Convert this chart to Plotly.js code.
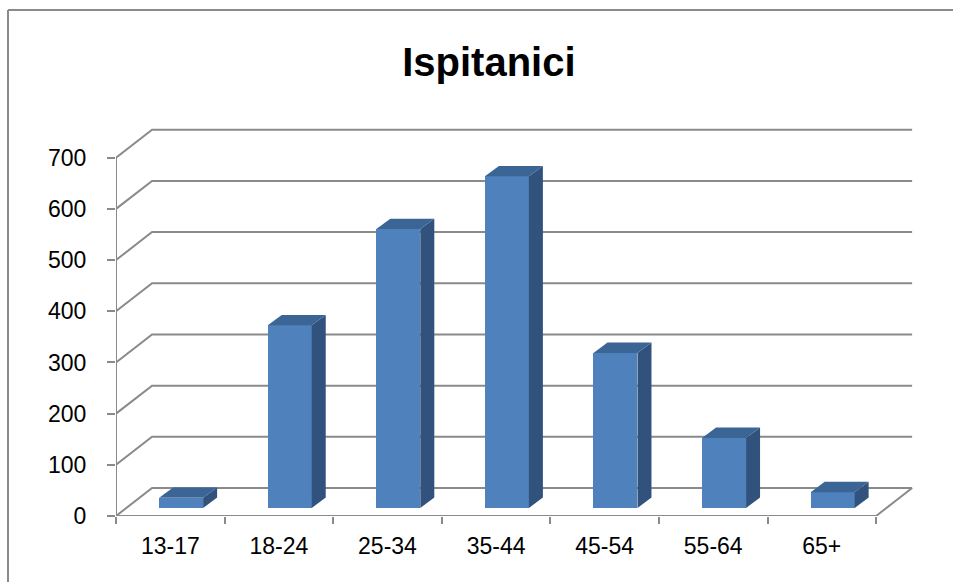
<!DOCTYPE html>
<html>
<head>
<meta charset="utf-8">
<script src="https://cdn.plot.ly/plotly-3.0.1.min.js"></script>
<style>html,body{margin:0;padding:0;background:#fff;overflow:hidden;}#chart{width:953px;height:582px;}</style>
</head>
<body>
<div id="chart"></div>
<script>
// ---- data ----
var categories = ['13-17', '18-24', '25-34', '35-44', '45-54', '55-64', '65+'];
var values = [20, 357, 545, 648, 303, 137, 31];
var yTicks = [0, 100, 200, 300, 400, 500, 600, 700];
var chartTitle = 'Ispitanici';

// ---- pseudo-3D geometry (in axis units) ----
var WALL_DX = 0.332, WALL_DY = 54.7;   // back wall offset
var BAR_DX = 0.129, BAR_DY = 20.3;     // bar depth
var BAR_BASE = 15.6, BAR_SHIFT = 0.1, BAR_W = 0.405;
var X0 = -0.5, X1 = categories.length - 0.5;
var GRID = '#8a8a8a';

var traces = [];

// back wall gridlines with left diagonals (lower subplot x/y)
var gx = [], gy = [];
yTicks.forEach(function (v) {
  gx.push(X0, X0 + WALL_DX, X1 + WALL_DX, null);
  gy.push(v, v + WALL_DY, v + WALL_DY, null);
});
gx.push(X0, X1, X1 + WALL_DX, null, X0, X0);
gy.push(0, 0, WALL_DY, null, 0, yTicks[yTicks.length - 1]);
traces.push({type: 'scatter', mode: 'lines', x: gx, y: gy, xaxis: 'x', yaxis: 'y', hoverinfo: 'skip',
  line: {color: GRID, width: 2}, showlegend: false});

// bars on overlay subplot x2/y so they cover the gridlines
var bx = categories.map(function (c, i) { return i + BAR_SHIFT; });
traces.push({type: 'bar', x: bx, y: values, base: values.map(function () { return BAR_BASE; }),
  xaxis: 'x2', yaxis: 'y',
  width: BAR_W, marker: {color: '#4f81bd', line: {width: 0}}, showlegend: false, hoverinfo: 'skip'});

values.forEach(function (v, i) {
  var xl = i + BAR_SHIFT - BAR_W / 2, xr = i + BAR_SHIFT + BAR_W / 2;
  var top = BAR_BASE + v;
  traces.push({type: 'scatter', mode: 'lines', fill: 'toself', fillcolor: '#30527d',
    xaxis: 'x2', yaxis: 'y',
    line: {width: 0, color: '#30527d'}, hoverinfo: 'skip', showlegend: false,
    x: [xr, xr + BAR_DX, xr + BAR_DX, xr, xr],
    y: [BAR_BASE, BAR_BASE + BAR_DY, top + BAR_DY, top, BAR_BASE]});
  traces.push({type: 'scatter', mode: 'lines', fill: 'toself', fillcolor: '#3b6594',
    xaxis: 'x2', yaxis: 'y',
    line: {width: 0, color: '#3b6594'}, hoverinfo: 'skip', showlegend: false,
    x: [xl, xr, xr + BAR_DX, xl + BAR_DX, xl],
    y: [top, top, top + BAR_DY, top + BAR_DY, top]});
});

var xr = [X0, X1 + 0.34];
var boundaries = [];
for (var k = 0; k <= categories.length; k++) boundaries.push(k - 0.5);

var font = {family: 'Liberation Sans, Arial, sans-serif', size: 23, color: '#000'};

var layout = {
  width: 953, height: 582,
  margin: {l: 116, r: 40, t: 127, b: 66},
  paper_bgcolor: '#fff', plot_bgcolor: '#fff',
  title: {text: chartTitle, xref: 'container', x: 0.513, xanchor: 'center',
    yref: 'container', y: 0.893, yanchor: 'middle',
    font: {family: 'Liberation Sans, Arial, sans-serif', size: 40, weight: 'bold', color: '#000'}},
  xaxis: {range: xr, tickmode: 'array', tickvals: boundaries, ticktext: boundaries.map(function () { return ''; }),
    ticks: 'outside', ticklen: 7, tickwidth: 2, tickcolor: GRID,
    showgrid: false, zeroline: false, showline: false, fixedrange: true},
  xaxis2: {range: xr, overlaying: 'x', anchor: 'y', side: 'bottom',
    tickmode: 'array', tickvals: categories.map(function (c, i) { return i; }), ticktext: categories,
    ticks: '', tickfont: font, ticklabelstandoff: 14,
    showgrid: false, zeroline: false, showline: false, fixedrange: true},
  yaxis: {range: [0, 760], tickmode: 'array', tickvals: yTicks,
    ticks: 'outside', ticklen: 8, tickwidth: 2, tickcolor: GRID,
    tickfont: font, ticklabelstandoff: 16,
    showgrid: false, zeroline: false, showline: false, fixedrange: true},
  shapes: [
    {type: 'line', xref: 'paper', yref: 'paper', x0: -0.1355, x1: -0.1355, y0: -0.2, y1: 1.3008,
      line: {color: '#8a8a8a', width: 2}, layer: 'below'},
    {type: 'line', xref: 'paper', yref: 'paper', x0: -0.1355, x1: 1.06, y0: 1.3008, y1: 1.3008,
      line: {color: '#8a8a8a', width: 2}, layer: 'below'}
  ],
  bargap: 0
};

Plotly.newPlot('chart', traces, layout, {staticPlot: true, displayModeBar: false});
</script>
</body>
</html>
